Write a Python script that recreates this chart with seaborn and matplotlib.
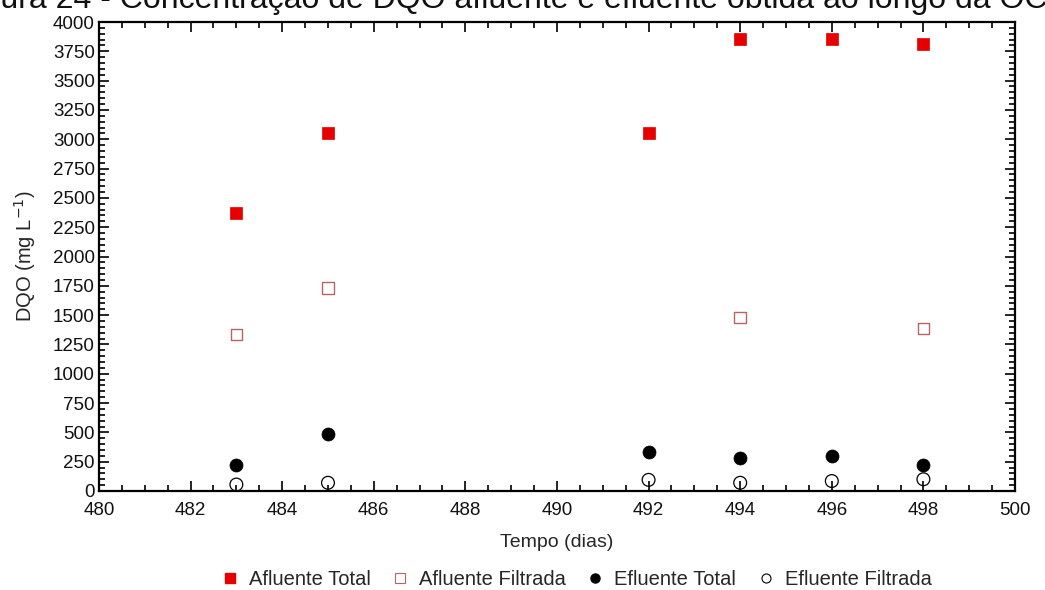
import matplotlib
matplotlib.use("Agg")
import matplotlib.pyplot as plt
from matplotlib.ticker import MultipleLocator
from matplotlib.lines import Line2D
import seaborn as sns
import pandas as pd

# Sampling days and COD concentrations (mg/L)
dias_total = [483, 485, 492, 494, 496, 498]
afluente_total = [2370, 3050, 3050, 3855, 3855, 3810]

dias_afl_filtrada = [483, 485, 494, 498]
afluente_filtrada = [1335, 1730, 1480, 1385]

efluente_total = [220, 485, 330, 285, 295, 225]
efluente_filtrada = [55, 70, 95, 70, 85, 100]

series_names = ["Afluente Total", "Afluente Filtrada", "Efluente Total", "Efluente Filtrada"]

sns.set_theme(style="ticks")
plt.rcParams["font.family"] = ["Liberation Sans", "DejaVu Sans"]

fig = plt.figure(figsize=(10.45, 5.9), dpi=100)
ax = fig.add_axes([0.0947, 0.1678, 0.8766, 0.7949])

frames = [
    pd.DataFrame({"dia": dias_total, "dqo": afluente_total}),
    pd.DataFrame({"dia": dias_afl_filtrada, "dqo": afluente_filtrada}),
    pd.DataFrame({"dia": dias_total, "dqo": efluente_total}),
    pd.DataFrame({"dia": dias_total, "dqo": efluente_filtrada}),
]
styles = [
    dict(marker="s", s=78, facecolor="#e60000", edgecolor="#e60000", linewidth=0.5),
    dict(marker="s", s=70, facecolor="none", edgecolor="#b86464", linewidth=1.0),
    dict(marker="o", s=88, facecolor="black", edgecolor="black", linewidth=0.5),
    dict(marker="o", s=85, facecolor="none", edgecolor="black", linewidth=0.9),
]
for df, st in zip(frames, styles):
    sns.scatterplot(data=df, x="dia", y="dqo", ax=ax, legend=False, zorder=3, **st)

ax.set_xlim(480, 500)
ax.set_ylim(0, 4000)
ax.xaxis.set_major_locator(MultipleLocator(2))
ax.xaxis.set_minor_locator(MultipleLocator(0.5))
ax.yaxis.set_major_locator(MultipleLocator(250))
ax.yaxis.set_minor_locator(MultipleLocator(50))
ax.tick_params(which="both", direction="in", top=True, right=True, color="black", width=1.2)
ax.tick_params(which="major", length=7, labelsize=13.5, labelcolor="#111111")
ax.tick_params(axis="x", which="major", pad=8)
ax.tick_params(axis="y", which="major", pad=3)
ax.tick_params(which="minor", length=4)
for sp in ax.spines.values():
    sp.set_linewidth(1.6)
    sp.set_color("black")

ax.set_xlabel("Tempo (dias)", fontsize=14, labelpad=11)
ax.set_ylabel("DQO (mg L$^{-1}$)", fontsize=14.5, labelpad=11)

handles = [
    Line2D([], [], ls="none", marker="s", ms=6.5, mfc="#e60000", mec="#e60000"),
    Line2D([], [], ls="none", marker="s", ms=6.5, mfc="none", mec="#b86464", mew=0.8),
    Line2D([], [], ls="none", marker="o", ms=6.5, mfc="black", mec="black"),
    Line2D([], [], ls="none", marker="o", ms=6.5, mfc="none", mec="black", mew=0.8),
]
ax.legend(handles, series_names, loc="upper center", bbox_to_anchor=(0.521, -0.13),
          ncol=4, frameon=False, fontsize=14.5, handletextpad=0.5, columnspacing=1.0,
          handlelength=0.9)

fig.text(1.002, 0.986, "Figura 24 - Concentração de DQO afluente e efluente obtida ao longo da OC",
         ha="right", va="baseline", fontsize=23, color="#111111")

fig.savefig("out.png", dpi=100, facecolor="white")
